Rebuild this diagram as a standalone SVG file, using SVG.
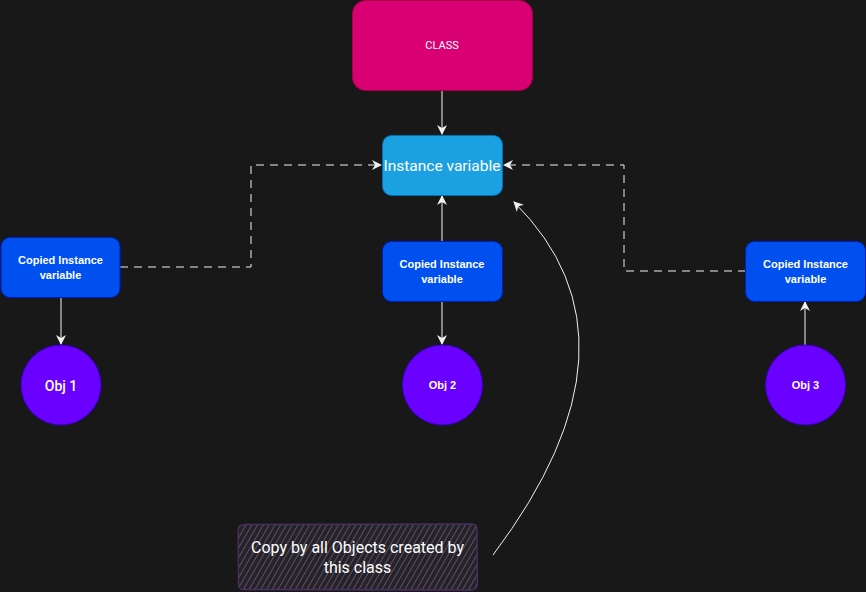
<svg xmlns="http://www.w3.org/2000/svg" width="866" height="592" viewBox="0 0 866 592">
<defs>
<marker id="arr" viewBox="0 0 10 10" refX="9" refY="5" markerWidth="10" markerHeight="10" markerUnits="userSpaceOnUse" orient="auto">
<path d="M0,0 L10,5 L0,10 L3,5 Z" fill="#f0f0f0"/>
</marker>
<pattern id="hatch" patternUnits="userSpaceOnUse" width="5" height="5" patternTransform="rotate(30)">
<rect width="5" height="5" fill="#262229"/>
<line x1="0" y1="0" x2="0" y2="5" stroke="#6a6074" stroke-width="1.5"/>
</pattern>
</defs>
<style>
.t{fill:#ffffff;text-anchor:middle;font-family:Roboto,"Liberation Sans",sans-serif}
.s{font-size:11px;font-weight:bold;font-family:"Liberation Sans",Arial,sans-serif}
.n{font-size:11px;font-family:Roboto,"Liberation Sans",sans-serif}
.b{font-size:15px}
.c{fill:none;stroke:#f0f0f0;stroke-width:1}
.d{stroke-dasharray:8 6}
.blue{fill:#0050ef;stroke:#001dbc}
.obj{fill:#6a00ff;stroke:#3700cc}
</style>
<rect width="866" height="592" fill="#181818"/>
<g id="connectors">
<path class="c" d="M442,90 V134" marker-end="url(#arr)"/>
<path class="c" d="M442,242 V196" marker-end="url(#arr)"/>
<path class="c d" d="M120,267 H251 V165 H381" marker-end="url(#arr)"/>
<path class="c d" d="M746,271 H624 V165 H504" marker-end="url(#arr)"/>
<path class="c" d="M61,297 V344" marker-end="url(#arr)"/>
<path class="c" d="M442,301 V344" marker-end="url(#arr)"/>
<path class="c" d="M805,345 V302" marker-end="url(#arr)"/>
<path class="c" d="M493,555 Q654,341 514,202" marker-end="url(#arr)"/>
</g>
<g id="class">
<rect x="352.5" y="0.5" width="180" height="90" rx="13" fill="#d80073" stroke="#a50040"/>
<text class="t n" x="442" y="49">CLASS</text>
</g>
<g id="instance">
<rect x="382.5" y="135.5" width="120" height="60" rx="9" fill="#1ba1e2" stroke="#006eaf"/>
<text class="t" x="442" y="171" font-size="15.5">Instance variable</text>
</g>
<g id="copy1">
<rect class="blue" x="1" y="237.5" width="119" height="60" rx="9"/>
<text class="t s" x="60.5" y="263.5">Copied Instance</text>
<text class="t s" x="60.5" y="278.5">variable</text>
</g>
<g id="copy2">
<rect class="blue" x="382.5" y="241.5" width="120" height="60" rx="9"/>
<text class="t s" x="442" y="268">Copied Instance</text>
<text class="t s" x="442" y="283">variable</text>
</g>
<g id="copy3">
<rect class="blue" x="745.5" y="241.5" width="120" height="60" rx="9"/>
<text class="t s" x="805.5" y="268">Copied Instance</text>
<text class="t s" x="805.5" y="283">variable</text>
</g>
<g id="obj1">
<circle class="obj" cx="61" cy="385" r="40"/>
<text class="t" x="61" y="390.5" font-size="14" font-weight="500">Obj 1</text>
</g>
<g id="obj2">
<circle class="obj" cx="442.5" cy="385" r="40"/>
<text class="t s" x="442.5" y="389">Obj 2</text>
</g>
<g id="obj3">
<circle class="obj" cx="805.5" cy="385" r="40"/>
<text class="t s" x="805.5" y="389">Obj 3</text>
</g>
<g id="note">
<path d="M245,524.5 L472,524 Q477,524 477,530 L477.5,584 Q477,590 471,590 L244,589.5 Q238.5,590 238.5,584 L238,530 Q238.5,524.5 245,524.5 Z" fill="url(#hatch)" stroke="#4a2f62" stroke-width="1.3"/>
<text class="t" x="357.5" y="553" font-size="16">Copy by all Objects created by</text>
<text class="t" x="357.5" y="573" font-size="16">this class</text>
</g>
</svg>
